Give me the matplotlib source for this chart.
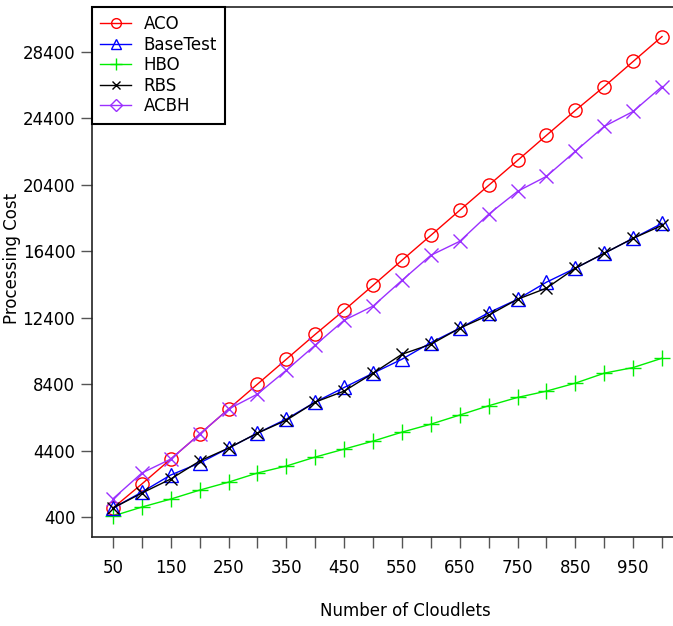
import numpy as np
import matplotlib
matplotlib.use('Agg')
import matplotlib.pyplot as plt
from matplotlib.lines import Line2D

matplotlib.rcParams['font.family'] = 'DejaVu Sans'

cloudlets = [50, 100, 150, 200, 250, 300, 350, 400, 450, 500,
             550, 600, 650, 700, 750, 800, 850, 900, 950, 1000]
aco = [940, 2390, 3890, 5390, 6900, 8400, 9900, 11400, 12850, 14350,
       15860, 17360, 18870, 20370, 21870, 23380, 24880, 26320, 27830, 29330]
basetest = [940, 1900, 2930, 3650, 4550, 5450, 6300, 7320, 8200, 9060,
            9900, 10900, 11770, 12700, 13510, 14540, 15380, 16280, 17180, 18080]
hbo = [460, 1000, 1480, 2020, 2500, 3050, 3470, 4010, 4490, 4970,
       5510, 5990, 6540, 7100, 7600, 7980, 8460, 9060, 9400, 9960]
rbs = [940, 1840, 2690, 3770, 4550, 5450, 6230, 7320, 7980, 9060,
       10200, 10800, 11770, 12550, 13510, 14180, 15380, 16280, 17180, 17960]
acbh = [1500, 3050, 3890, 5390, 6900, 7800, 9240, 10750, 12250, 13100,
        14650, 16160, 17000, 18630, 20010, 20910, 22420, 23920, 24820, 26320]

yticks = [400, 4400, 8400, 12400, 16400, 20400, 24400, 28400]
xticks_major = list(range(50, 1001, 50))
xticklabels = [str(v) if v % 100 == 50 else '' for v in xticks_major]

fig = plt.figure(figsize=(6.73, 6.26), dpi=100)
ax = fig.add_axes([92/673, 89/626, 1 - 92/673, 530/626])

ms = 9.5
ax.plot(cloudlets, aco, color='#ff0000', lw=1, marker='o', ms=ms, mfc='none', mew=1)
ax.plot(cloudlets, acbh, color='#9b30ff', lw=1, marker='x', ms=ms, mew=1)
ax.plot(cloudlets, hbo, color='#00ee00', lw=1, marker='+', ms=ms + 1.5, mew=1)
ax.plot(cloudlets, basetest, color='#0000ff', lw=1, marker='^', ms=ms, mfc='none', mew=1)
ax.plot(cloudlets, rbs, color='black', lw=1, marker='x', ms=ms - 1, mew=1)

ax.set_xlim(13.7, 1019)
ax.set_ylim(-804, 31110)
ax.set_yticks(yticks)
ax.set_xticks(xticks_major)
ax.set_xticklabels(xticklabels)
ax.spines['right'].set_visible(False)
for s in ['left', 'bottom', 'top']:
    ax.spines[s].set_color('#222222')
    ax.spines[s].set_linewidth(1.2)
ax.tick_params(axis='both', direction='out', length=8, width=1, color='#555555',
               labelsize=12, labelcolor='black')
ax.tick_params(axis='y', pad=4)
ax.tick_params(axis='x', pad=8)

ax.set_ylabel('Processing Cost', fontsize=12)
ax.yaxis.set_label_coords(-0.123, 0.526)
ax.set_xlabel('Number of Cloudlets', fontsize=12)
ax.xaxis.set_label_coords(0.54, -0.122)

handles = [
    Line2D([], [], color='#ff0000', lw=1, marker='o', ms=7, mfc='none'),
    Line2D([], [], color='#0000ff', lw=1, marker='^', ms=7, mfc='none'),
    Line2D([], [], color='#00ee00', lw=1, marker='+', ms=9),
    Line2D([], [], color='black', lw=1, marker='x', ms=6),
    Line2D([], [], color='#9b30ff', lw=1, marker='D', ms=6, mfc='none'),
]
labels = ['ACO', 'BaseTest', 'HBO', 'RBS', 'ACBH']
leg = ax.legend(handles, labels, loc='upper left', bbox_to_anchor=(0, 1),
                borderaxespad=0, fancybox=False, fontsize=12, handlelength=1.85,
                handletextpad=0.75, labelspacing=0.15, borderpad=0.5, framealpha=1)
leg.get_frame().set_edgecolor('black')
leg.get_frame().set_linewidth(1.5)

plt.savefig('out.png', dpi=100)
